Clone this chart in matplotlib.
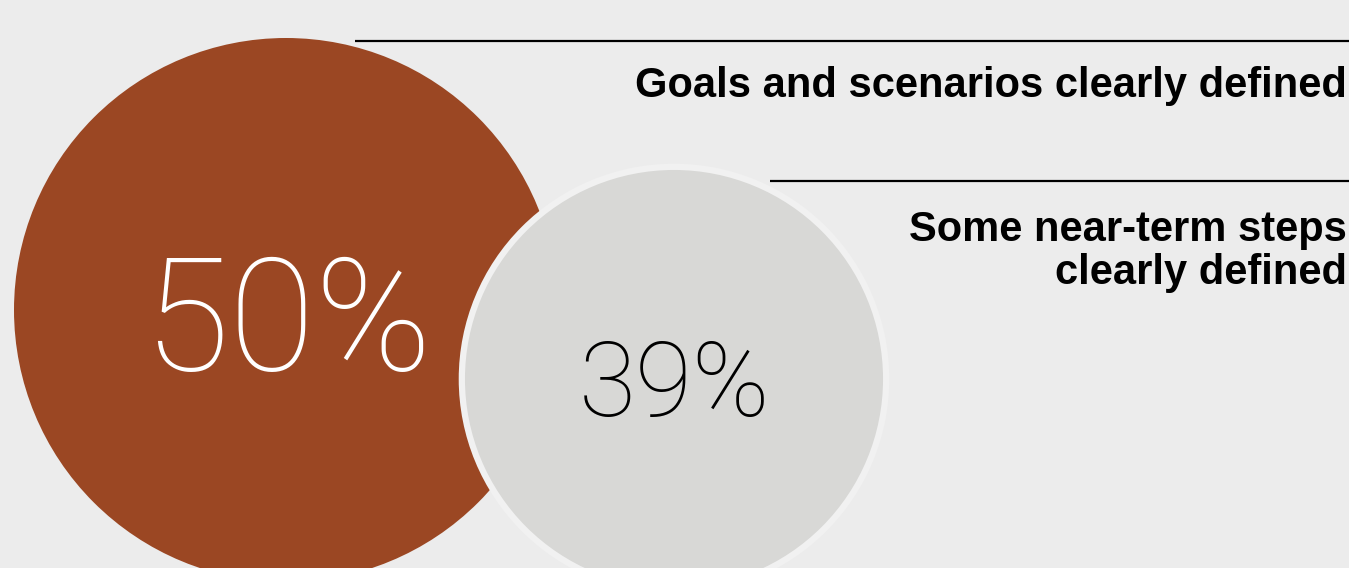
import matplotlib.pyplot as plt
from matplotlib.patches import Circle

# data
values = [50, 39]
labels = [["Goals and scenarios clearly defined"],
          ["Some near-term steps", "clearly defined"]]
colors = ["#9b4723", "#d8d8d6"]
text_colors = ["white", "black"]

W, H = 1349, 568
fig = plt.figure(figsize=(W / 100, H / 100), dpi=100, facecolor="#ececec")
ax = fig.add_axes([0, 0, 1, 1])
ax.set_xlim(0, W)
ax.set_ylim(H, 0)
ax.set_aspect("equal")
ax.axis("off")

scale = 5.44  # px radius per percent
centers = [(286, 310), (674, 379)]
font_sizes = [113, 75]
text_base = [370, 416]
text_x = [288, 674]
for i, v in enumerate(values):
    r = v * scale
    c = Circle(centers[i], r, facecolor=colors[i],
               edgecolor="#f1f1f1" if i > 0 else "none", linewidth=4.5, zorder=2 + i)
    ax.add_patch(c)
    ax.text(text_x[i], text_base[i], "%d%%" % v, color=text_colors[i],
            fontsize=font_sizes[i], family="Roboto", fontweight="light",
            ha="center", va="baseline", zorder=5)

# leader lines and labels
line_y = [41, 181]
line_x0 = [355, 770]
label_base = [97, 241]
for i in range(2):
    ax.plot([line_x0[i], W], [line_y[i], line_y[i]], color="black", lw=1.6, zorder=1,
            solid_capstyle="butt")
    for j, line in enumerate(labels[i]):
        ax.text(W - 2, label_base[i] + 43 * j, line, ha="right", va="baseline",
                fontsize=30, fontweight="bold", family="Liberation Sans", zorder=5)

fig.savefig("out.png", dpi=100, facecolor=fig.get_facecolor())
